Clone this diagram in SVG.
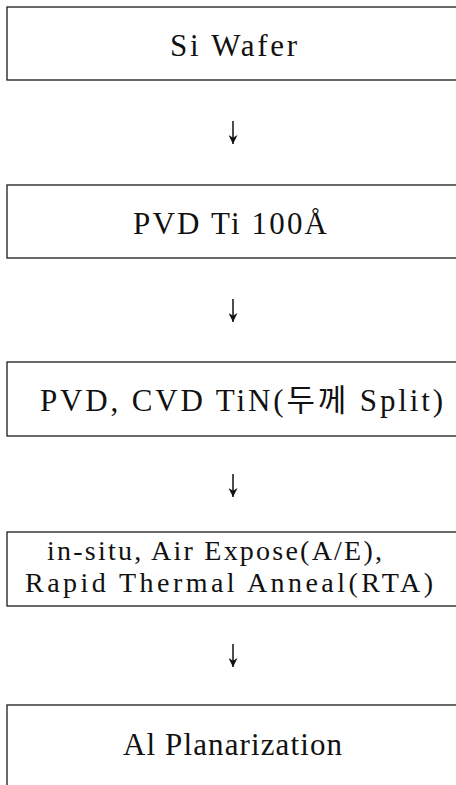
<svg xmlns="http://www.w3.org/2000/svg" width="456" height="785" viewBox="0 0 456 785">
<defs>
<style>
.box{fill:none;stroke:#1a1a1a;stroke-width:1.3}
.t{font-family:"Liberation Serif","Noto Sans CJK KR",serif;font-size:31px;fill:#111}
.s{font-size:28px}
.c{stroke:#111;stroke-width:1.5;fill:none}
</style>
<marker id="ah" viewBox="0 0 10 10" refX="10" refY="5" markerWidth="9" markerHeight="9" markerUnits="userSpaceOnUse" orient="auto">
<path d="M0,0 L10,5 L0,10 L3,5 Z" fill="#111"/>
</marker>
</defs>
<rect width="456" height="785" fill="#fff"/>
<g id="connectors">
<line class="c" x1="233" y1="121" x2="233" y2="144" marker-end="url(#ah)"/>
<line class="c" x1="233" y1="299" x2="233" y2="322" marker-end="url(#ah)"/>
<line class="c" x1="233" y1="474" x2="233" y2="497" marker-end="url(#ah)"/>
<line class="c" x1="233" y1="644" x2="233" y2="667" marker-end="url(#ah)"/>
</g>
<g id="n1">
<rect class="box" x="7" y="7" width="470" height="73"/>
<text class="t" x="170" y="56" textLength="127" lengthAdjust="spacing">Si Wafer</text>
</g>
<g id="n2">
<rect class="box" x="7" y="185" width="470" height="73"/>
<text class="t" x="133" y="234" textLength="194" lengthAdjust="spacing">PVD Ti 100Å</text>
</g>
<g id="n3">
<rect class="box" x="7" y="362" width="470" height="74"/>
<text class="t" x="40" y="411" textLength="403" lengthAdjust="spacing">PVD, CVD TiN(두께 Split)</text>
</g>
<g id="n4">
<rect class="box" x="7" y="532" width="470" height="74"/>
<text class="t s" x="47" y="560" textLength="335" lengthAdjust="spacing">in-situ, Air Expose(A/E),</text>
<text class="t s" x="25" y="592" textLength="408" lengthAdjust="spacing">Rapid Thermal Anneal(RTA)</text>
</g>
<g id="n5">
<rect class="box" x="7" y="705" width="470" height="100"/>
<text class="t" x="123" y="755" textLength="219" lengthAdjust="spacing">Al Planarization</text>
</g>
</svg>
